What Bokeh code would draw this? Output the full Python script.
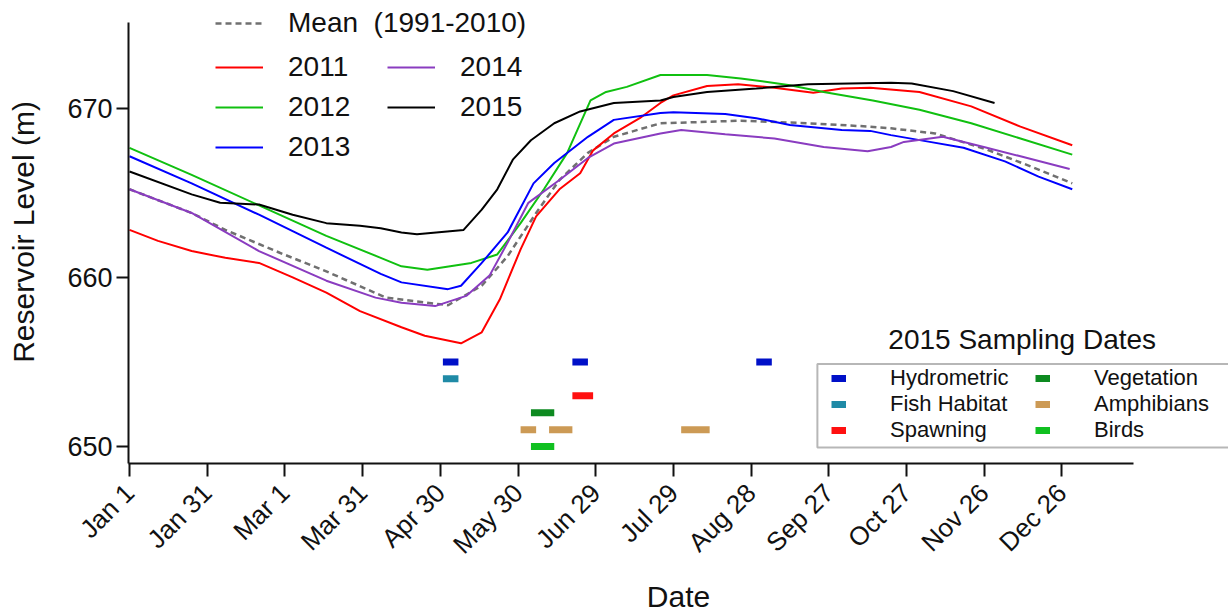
from bokeh.plotting import figure
from bokeh.models import (Range1d, FixedTicker, Legend, LegendItem, BoxAnnotation, Label)
from bokeh.embed import file_html
from bokeh.resources import INLINE

FONT = "Liberation Sans"

# ---------------- data (day of year, reservoir level in m) ----------------
tick_days = [1, 31, 61, 91, 121, 151, 181, 211, 241, 271, 301, 331, 361]
tick_labels = ["Jan 1", "Jan 31", "Mar 1", "Mar 31", "Apr 30", "May 30", "Jun 29",
               "Jul 29", "Aug 28", "Sep 27", "Oct 27", "Nov 26", "Dec 26"]
y_ticks = [650, 660, 670]

mean_day = [1, 25, 38, 59, 77, 100, 124, 137, 147, 158, 167, 178, 188, 206, 237, 263, 287, 295, 312, 332, 349, 365]
mean_val = [665.2, 663.8, 662.8, 661.45, 660.35, 658.8, 658.35, 659.5, 661.25, 663.8, 665.75, 667.35, 668.3,
            669.1, 669.25, 669.1, 668.9, 668.8, 668.5, 667.55, 666.55, 665.55]

y2011_day = [1, 12, 25, 38, 51, 64, 77, 90, 106, 115, 129, 137, 144, 152, 158, 167, 175, 180, 188, 198, 206,
             211, 224, 236, 250, 265, 276, 287, 306, 326, 345, 365]
y2011_val = [662.8, 662.15, 661.55, 661.15, 660.85, 660.0, 659.1, 658.0, 657.05, 656.55, 656.1, 656.75, 658.7,
             661.65, 663.6, 665.2, 666.15, 667.5, 668.5, 669.4, 670.3, 670.75, 671.3, 671.4, 671.2, 670.9,
             671.15, 671.2, 670.95, 670.1, 668.9, 667.8]

y2012_day = [1, 25, 51, 77, 98, 106, 116, 133, 143, 152, 161, 170, 179, 185, 193, 206, 224, 237, 256, 269, 288,
             306, 326, 345, 365]
y2012_val = [667.65, 666.05, 664.25, 662.45, 661.15, 660.65, 660.45, 660.85, 661.35, 663.2, 665.2, 667.35,
             670.45, 670.95, 671.25, 671.95, 671.95, 671.75, 671.35, 670.95, 670.45, 669.9, 669.1, 668.2, 667.25]

y2013_day = [1, 25, 51, 77, 98, 106, 124, 129, 137, 147, 157, 165, 178, 188, 206, 211, 231, 243, 256, 276, 287,
             295, 310, 323, 339, 352, 365]
y2013_val = [667.15, 665.55, 663.7, 661.75, 660.2, 659.7, 659.3, 659.5, 660.85, 662.65, 665.55, 666.75, 668.3,
             669.3, 669.7, 669.75, 669.65, 669.4, 669.0, 668.7, 668.65, 668.4, 668.0, 667.65, 666.85, 665.95, 665.2]

y2014_day = [1, 25, 51, 77, 96, 106, 119, 131, 140, 147, 155, 167, 178, 188, 206, 214, 231, 250, 269, 286, 295,
             300, 315, 332, 345, 364]
y2014_val = [665.2, 663.8, 661.55, 659.8, 658.8, 658.5, 658.3, 658.9, 660.1, 662.05, 664.4, 665.75, 667.05,
             667.9, 668.5, 668.7, 668.45, 668.2, 667.7, 667.45, 667.7, 668.0, 668.3, 667.65, 667.15, 666.4]

y2015_day = [1, 25, 36, 51, 64, 77, 90, 98, 106, 112, 130, 137, 143, 149, 156, 165, 175, 188, 206, 211, 224, 243,
             263, 295, 303, 319, 335]
y2015_val = [666.25, 664.9, 664.4, 664.3, 663.7, 663.2, 663.05, 662.9, 662.65, 662.55, 662.8, 664.0, 665.2,
             666.95, 668.1, 669.1, 669.8, 670.3, 670.45, 670.65, 670.95, 671.15, 671.4, 671.5, 671.45, 671.0, 670.3]

# 2015 sampling periods (start day, end day) and plotting level
hydro_start, hydro_end = [122, 172, 243], [128, 178, 249]
fish_start, fish_end = [122], [128]
spawn_start, spawn_end = [172], [180]
veg_start, veg_end = [156], [165]
amph_start, amph_end = [152, 163, 214], [158, 172, 225]
bird_start, bird_end = [156], [165]
levels = {"Hydrometric": 655, "Fish Habitat": 654, "Spawning": 653,
          "Vegetation": 652, "Amphibians": 651, "Birds": 650}

# ---------------- figure ----------------
px_per_day = 2.59
px_per_m = 17.0
x0 = 1 - 1 / px_per_day
x1 = x0 + 1100 / px_per_day
y0 = 649.0
y1 = y0 + 465 / px_per_m
p = figure(width=1228, height=616, output_backend="svg", toolbar_location=None,
           x_range=Range1d(x0, x1), y_range=Range1d(y0, y1),
           min_border_left=128, min_border_right=0, min_border_top=0, min_border_bottom=151)
p.outline_line_color = None
p.xgrid.visible = False
p.ygrid.visible = False
p.background_fill_color = "white"
p.border_fill_color = "white"

ink = "#111111"
for ax in (p.xaxis[0], p.yaxis[0]):
    ax.axis_line_width = 2
    ax.axis_line_color = ink
    ax.major_tick_line_width = 2
    ax.major_tick_line_color = ink
    ax.minor_tick_line_color = None
    ax.major_tick_in = 0
    ax.major_label_text_font = FONT
    ax.major_label_text_color = ink
    ax.axis_label_text_font = FONT
    ax.axis_label_text_font_style = "normal"
    ax.axis_label_text_color = ink
    ax.axis_label_text_font_size = "30px"

xa = p.xaxis[0]
xa.ticker = FixedTicker(ticks=tick_days)
xa.major_label_overrides = {d: l for d, l in zip(tick_days, tick_labels)}
xa.major_label_orientation = 0.785398
xa.major_label_text_font_size = "26px"
xa.major_tick_out = 13
xa.major_label_standoff = 12
xa.bounds = (x0, x0 + 1005 / px_per_day)
xa.axis_label = "Date"
xa.axis_label_standoff = 7

ya = p.yaxis[0]
ya.ticker = FixedTicker(ticks=y_ticks)
ya.major_label_text_font_size = "27px"
ya.major_tick_out = 12
ya.major_label_standoff = 4
ya.bounds = (y0, y0 + 443 / px_per_m)
ya.axis_label = "Reservoir Level (m)"
ya.axis_label_standoff = 24

# ---------------- curves ----------------
r_mean = p.line(mean_day, mean_val, line_color="#707070", line_width=2.5, line_dash="6 4")
r11 = p.line(y2011_day, y2011_val, line_color="#ff0000", line_width=2)
r12 = p.line(y2012_day, y2012_val, line_color="#10c010", line_width=2)
r13 = p.line(y2013_day, y2013_val, line_color="#0000ff", line_width=2)
r14 = p.line(y2014_day, y2014_val, line_color="#8a3cc0", line_width=2)
r15 = p.line(y2015_day, y2015_val, line_color="#000000", line_width=2)

# ---------------- sampling bars ----------------
def bars(starts, ends, level, color):
    n = len(starts)
    return p.segment(x0=starts, y0=[level] * n, x1=ends, y1=[level] * n,
                     line_color=color, line_width=7, line_cap="butt")

s_h = bars(hydro_start, hydro_end, levels["Hydrometric"], "#0010c8")
s_f = bars(fish_start, fish_end, levels["Fish Habitat"], "#1f8aa6")
s_s = bars(spawn_start, spawn_end, levels["Spawning"], "#ff1010")
s_v = bars(veg_start, veg_end, levels["Vegetation"], "#0d8a20")
s_a = bars(amph_start, amph_end, levels["Amphibians"], "#cc9a55")
s_b = bars(bird_start, bird_end, levels["Birds"], "#10c020")

# ---------------- legends ----------------
def style(leg, size, gw, gh, stand, lw, sp):
    leg.background_fill_alpha = 0
    leg.border_line_alpha = 0
    leg.padding = 0
    leg.margin = 0
    leg.label_text_font = FONT
    leg.label_text_font_size = size
    leg.label_text_color = ink
    leg.glyph_width = gw
    leg.glyph_height = gh
    leg.label_height = gh
    leg.label_standoff = stand
    leg.label_width = lw
    leg.spacing = sp
    leg.label_text_baseline = "middle"

legA = Legend(items=[LegendItem(label="Mean\u00a0 (1991-2010)", renderers=[r_mean])], location=(87, 422))
style(legA, "28px", 48, 36, 25, 20, 4)
p.add_layout(legA, "center")

legB = Legend(items=[LegendItem(label="2011", renderers=[r11]), LegendItem(label="2012", renderers=[r12]),
                     LegendItem(label="2013", renderers=[r13]), LegendItem(label="2014", renderers=[r14]),
                     LegendItem(label="2015", renderers=[r15])], location=(87, 298), ncols=2)
style(legB, "28px", 48, 36, 25, 95, 4)
p.add_layout(legB, "center")

legC = Legend(items=[LegendItem(label="Hydrometric", renderers=[s_h]), LegendItem(label="Fish Habitat", renderers=[s_f]),
                     LegendItem(label="Spawning", renderers=[s_s]), LegendItem(label="Vegetation", renderers=[s_v]),
                     LegendItem(label="Amphibians", renderers=[s_a]), LegendItem(label="Birds", renderers=[s_b])],
              location=(703, 20), ncols=2)
style(legC, "22px", 15, 20, 44, 145, 0)
p.add_layout(legC, "center")

box = BoxAnnotation(left=266.6, right=x1 + 60, bottom=649.94, top=654.88,
                    fill_alpha=0, line_color=ink, line_width=2)
p.add_layout(box)

title = Label(x=294.0, y=656.3, text="2015 Sampling Dates", text_font=FONT, text_font_size="28px",
              text_baseline="middle", text_align="left", text_color=ink)
p.add_layout(title)

open("out.html", "w").write(file_html(p, INLINE))
